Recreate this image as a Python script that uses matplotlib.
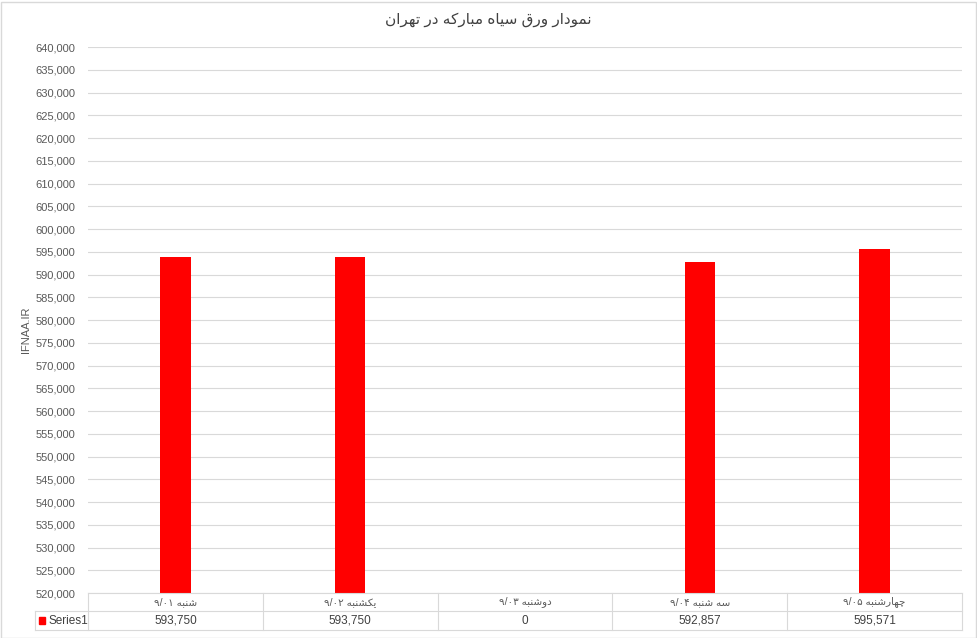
import re
import matplotlib
matplotlib.use('Agg')
import matplotlib.pyplot as plt
from matplotlib.patches import Rectangle

title = 'نمودار ورق سیاه مبارکه در تهران'
categories = ['شنبه ۹/۰۱', 'یکشنبه ۹/۰۲', 'دوشنبه ۹/۰۳', 'سه شنبه ۹/۰۴', 'چهارشنبه ۹/۰۵']
values = [593750, 593750, 0, 592857, 595571]
series_name = 'Series1'
y_label = 'IFNAA.IR'

# simple arabic shaping: (isolated, final, initial, medial)
FORMS = {
    'ا': ('\uFE8D', '\uFE8E', None, None),
    'د': ('\uFEA9', '\uFEAA', None, None),
    'ر': ('\uFEAD', '\uFEAE', None, None),
    'و': ('\uFEED', '\uFEEE', None, None),
    'ب': ('\uFE8F', '\uFE90', '\uFE91', '\uFE92'),
    'ت': ('\uFE95', '\uFE96', '\uFE97', '\uFE98'),
    'س': ('\uFEB1', '\uFEB2', '\uFEB3', '\uFEB4'),
    'ش': ('\uFEB5', '\uFEB6', '\uFEB7', '\uFEB8'),
    'ق': ('\uFED5', '\uFED6', '\uFED7', '\uFED8'),
    'م': ('\uFEE1', '\uFEE2', '\uFEE3', '\uFEE4'),
    'ن': ('\uFEE5', '\uFEE6', '\uFEE7', '\uFEE8'),
    'ه': ('\uFEE9', '\uFEEA', '\uFEEB', '\uFEEC'),
    'ی': ('\uFBFC', '\uFBFD', '\uFBFE', '\uFBFF'),
    'ک': ('\uFB8E', '\uFB8F', '\uFB90', '\uFB91'),
    'چ': ('\uFB7A', '\uFB7B', '\uFB7C', '\uFB7D'),
}


def dual(c):
    return c in FORMS and FORMS[c][2] is not None


def fa(s):
    out = []
    for i, c in enumerate(s):
        if c not in FORMS:
            out.append(c)
            continue
        prev = s[i - 1] if i > 0 else ''
        nxt = s[i + 1] if i + 1 < len(s) else ''
        p = dual(prev)
        n = dual(c) and nxt in FORMS
        iso, fin, ini, med = FORMS[c]
        if p and n:
            out.append(med)
        elif p:
            out.append(fin)
        elif n:
            out.append(ini)
        else:
            out.append(iso)
    shaped = ''.join(out)
    tokens = re.findall(r'[۰-۹0-9/]+|[^۰-۹0-9/]+', shaped)
    return ''.join(t if re.match(r'[۰-۹0-9/]', t) else t[::-1] for t in reversed(tokens))


plt.rcParams['font.family'] = ['Liberation Sans', 'DejaVu Sans']
W, H = 977, 638
fig = plt.figure(figsize=(W / 100, H / 100), dpi=100)
fig.patches.append(Rectangle((0.5 / W, 0.5 / H), 1 - 2 / W, 1 - 2 / H, transform=fig.transFigure,
                             fill=False, edgecolor='#d9d9d9', linewidth=1))

left, right, top, bottom = 88, 962, 47, 593
ax = fig.add_axes([left / W, 1 - bottom / H, (right - left) / W, (bottom - top) / H])
x = list(range(len(categories)))
ax.bar([i + 0.5 for i in x], values, width=0.175, color='#ff0000', zorder=3)
ax.set_xlim(0, len(categories))
ax.set_ylim(520000, 640000)
ax.set_yticks(range(520000, 640001, 5000))
ax.yaxis.set_major_formatter(matplotlib.ticker.FuncFormatter(lambda v, p: '{:,.0f}'.format(v)))
ax.tick_params(axis='y', length=0, pad=9, labelsize=8, labelcolor='#595959')
ax.set_xticks([])
ax.grid(axis='y', color='#d9d9d9', linewidth=0.8, zorder=0)
for s in ax.spines.values():
    s.set_visible(False)

fig.text(26 / W, 1 - 330 / H, y_label, rotation=90, ha='center', va='center', fontsize=8, color='#595959')
fig.text(0.5, 1 - 20 / H, fa(title), ha='center', va='center', fontsize=11, color='#404040')

# data table
tleft, tbot = 35, 630
tax = fig.add_axes([tleft / W, 1 - tbot / H, (right - tleft) / W, (tbot - bottom) / H])
tax.set_xlim(-(left - tleft) / ((right - left) / len(categories)), len(categories))
tax.set_ylim(0, tbot - bottom)
tax.axis('off')
lc = '#d9d9d9'
n = len(categories)
x0 = tax.get_xlim()[0]
tax.plot([0, n], [37, 37], color=lc, lw=0.8, clip_on=False)
tax.plot([x0, n], [19, 19], color=lc, lw=0.8, clip_on=False)
tax.plot([x0, n], [0, 0], color=lc, lw=0.8, clip_on=False)
tax.plot([x0, x0], [0, 19], color=lc, lw=0.8, clip_on=False)
for i in range(n + 1):
    tax.plot([i, i], [0, 37], color=lc, lw=0.8, clip_on=False)
for i, (c, v) in enumerate(zip(categories, values)):
    tax.text(i + 0.5, 28, fa(c), ha='center', va='center', fontsize=7.5, color='#595959')
    tax.text(i + 0.5, 9.5, '{:,.0f}'.format(v), ha='center', va='center', fontsize=8.5, color='#404040')
tax.add_patch(Rectangle((x0 + 0.022, 6.5), 0.035, 6.5, color='#ff0000', clip_on=False))
tax.text(x0 + 0.075, 9.5, series_name, ha='left', va='center', fontsize=8.5, color='#404040')

fig.savefig('out.png', dpi=100)
